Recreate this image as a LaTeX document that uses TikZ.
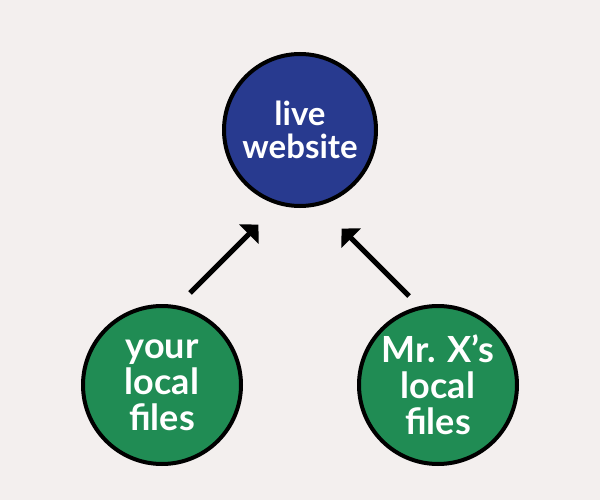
\documentclass[tikz,border=0pt]{standalone}
\usepackage{fontspec}
\setmainfont{Lato}
\usetikzlibrary{arrows.meta}
\definecolor{paper}{RGB}{243,239,238}
\definecolor{siteblue}{RGB}{40,58,143}
\definecolor{filegreen}{RGB}{32,140,84}
\tikzset{
  bubble/.style={circle, draw=black, line width=4pt, text=white,
    font=\bfseries\fontsize{33}{33}\selectfont, align=center, inner sep=0pt},
  filetext/.style={font=\bfseries\fontsize{36}{36}\selectfont},
  push/.style={line width=5pt, -{Triangle[width=27pt,length=13.5pt]}, shorten >=-2pt}
}
\begin{document}
\begin{tikzpicture}[x=1pt,y=-1pt]
  \fill[paper] (0,0) rectangle (600,500);
  \useasboundingbox (0,0) rectangle (600,500);
  \node[bubble, fill=siteblue, minimum size=152pt] (live) at (300,130) {live\\website};
  \node[bubble, filetext, fill=filegreen, minimum size=158pt] (yours) at (162,385) {your\\local\\files};
  \node[bubble, filetext, fill=filegreen, minimum size=158pt] (mrx) at (438,385) {Mr. X’s\\local\\files};
  \coordinate (ltail) at (190,293);
  \coordinate (lhead) at (257,226);
  \coordinate (rtail) at (409,296);
  \coordinate (rhead) at (343,230);
  \draw[push] (ltail) -- (lhead);
  \draw[push] (rtail) -- (rhead);
\end{tikzpicture}
\end{document}
